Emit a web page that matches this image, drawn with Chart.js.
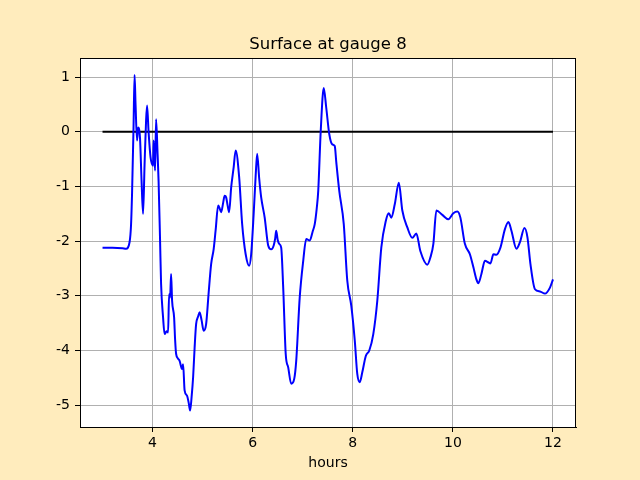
<!DOCTYPE html>
<html lang="en">

<head>
    <meta charset="UTF-8">
    <title>Surface at gauge 8</title>
    <script src="https://cdn.jsdelivr.net/npm/chart.js"></script>
    <style>
        html, body { margin: 0; padding: 0; background: #ffecbd; }
        #wrap { width: 640px; height: 480px; }
    </style>
</head>

<body>
    <div id="wrap"><canvas id="gaugeChart" width="640" height="480"></canvas></div>

    <script>
        // gauge 8 surface elevation
        const hours = [
            3.00, 3.20, 3.40, 3.47, 3.54, 3.57, 3.59, 3.62, 3.64, 3.66, 3.69, 3.71, 3.73, 3.75, 3.78, 3.81,
            3.84, 3.87, 3.89, 3.92, 3.96, 4.01, 4.02, 4.05, 4.07, 4.10, 4.12, 4.15, 4.17, 4.21, 4.24, 4.28,
            4.31, 4.33, 4.35, 4.37, 4.39, 4.43, 4.45, 4.47, 4.51, 4.54, 4.59, 4.61, 4.64, 4.69, 4.72, 4.75,
            4.78, 4.81, 4.84, 4.87, 4.91, 4.94, 4.98, 5.02, 5.07, 5.12, 5.17, 5.22, 5.26, 5.31, 5.34, 5.37,
            5.41, 5.44, 5.47, 5.50, 5.53, 5.57, 5.62, 5.66, 5.73, 5.79, 5.86, 5.93, 5.97, 6.02, 6.06, 6.09,
            6.13, 6.17, 6.24, 6.31, 6.37, 6.42, 6.45, 6.47, 6.50, 6.53, 6.57, 6.61, 6.66, 6.71, 6.77, 6.83,
            6.87, 6.94, 7.01, 7.07, 7.14, 7.20, 7.24, 7.28, 7.31, 7.36, 7.42, 7.47, 7.53, 7.59, 7.64, 7.67,
            7.73, 7.82, 7.89, 7.97, 8.04, 8.09, 8.14, 8.19, 8.26, 8.33, 8.41, 8.49, 8.57, 8.66, 8.72, 8.77,
            8.84, 8.92, 8.99, 9.09, 9.19, 9.27, 9.35, 9.49, 9.55, 9.61, 9.67, 9.79, 9.91, 10.01, 10.09, 10.15,
            10.24, 10.34, 10.41, 10.47, 10.51, 10.57, 10.64, 10.71, 10.75, 10.81, 10.87, 10.95, 11.04, 11.11,
            11.17, 11.27, 11.34, 11.43, 11.49, 11.55, 11.64, 11.74, 11.84, 11.94, 12.00
        ];
        const surface = [
            -2.12, -2.12, -2.13, -2.14, -2.02, -1.70, -1.13, 0.10, 1.04, 0.50, -0.16, 0.08, 0.05, -0.13, -0.90, -1.50,
            -0.60, 0.20, 0.48, 0.00, -0.47, -0.62, -0.16, -0.71, 0.23, -0.40, -0.90, -2.00, -2.78, -3.40, -3.70, -3.65,
            -3.67, -2.97, -3.03, -2.60, -3.09, -3.39, -3.80, -4.06, -4.15, -4.19, -4.34, -4.25, -4.73, -4.83, -4.95, -5.10,
            -4.85, -4.49, -3.95, -3.52, -3.38, -3.30, -3.45, -3.64, -3.52, -2.95, -2.42, -2.15, -1.80, -1.35, -1.40, -1.47,
            -1.30, -1.17, -1.20, -1.35, -1.47, -1.02, -0.65, -0.34, -0.83, -1.69, -2.24, -2.45, -2.24, -1.50, -0.80, -0.40,
            -0.85, -1.20, -1.57, -2.08, -2.15, -2.08, -1.95, -1.81, -1.98, -2.05, -2.12, -2.85, -4.06, -4.31, -4.61, -4.52,
            -4.19, -3.03, -2.36, -1.96, -1.99, -1.82, -1.69, -1.40, -1.08, 0.02, 0.80, 0.44, -0.04, -0.23, -0.26, -0.55,
            -1.08, -1.69, -2.72, -3.18, -3.82, -4.43, -4.58, -4.40, -4.10, -4.00, -3.70, -3.09, -2.12, -1.63, -1.49, -1.57,
            -1.32, -0.93, -1.44, -1.75, -1.94, -1.86, -2.18, -2.43, -2.30, -2.05, -1.44, -1.52, -1.60, -1.49, -1.46, -1.57,
            -2.05, -2.24, -2.48, -2.70, -2.77, -2.60, -2.36, -2.39, -2.41, -2.24, -2.25, -2.12, -1.78, -1.65,
            -1.81, -2.14, -2.02, -1.76, -1.93, -2.42, -2.88, -2.92, -2.96, -2.85, -2.70
        ];
        // reference level
        const zeroHours = [3, 12];
        const zeroLevel = [0, 0];

        const xTicks = [4, 6, 8, 10, 12];
        const yTicks = [-5, -4, -3, -2, -1, 0, 1];
        const chartTitle = 'Surface at gauge 8';

        const font = { family: 'DejaVu Sans', size: 14 };

        // white plot area, black frame and a title centred over the axes, like matplotlib
        const axesDecor = {
            id: 'axesDecor',
            beforeDraw(chart) {
                const { ctx, chartArea: a } = chart;
                ctx.save();
                ctx.fillStyle = '#fff';
                ctx.fillRect(a.left, a.top, a.right - a.left, a.bottom - a.top);
                ctx.fillStyle = '#000';
                ctx.font = '16.5px "DejaVu Sans"';
                ctx.textAlign = 'center';
                ctx.textBaseline = 'alphabetic';
                ctx.fillText(chartTitle, (a.left + a.right) / 2, a.top - 9);
                ctx.restore();
            },
            afterDatasetsDraw(chart) {
                const { ctx, chartArea: a } = chart;
                ctx.save();
                ctx.strokeStyle = '#000';
                ctx.lineWidth = 1;
                ctx.strokeRect(a.left + 0.5, a.top + 0.5, a.right - a.left - 1, a.bottom - a.top);
                ctx.restore();
            }
        };

        const toPoints = (xs, ys) => xs.map((x, i) => ({ x: x, y: ys[i] }));

        new Chart(document.getElementById('gaugeChart'), {
            type: 'line',
            data: {
                datasets: [
                    {
                        data: toPoints(hours, surface),
                        borderColor: '#0000ff',
                        borderWidth: 2,
                        pointRadius: 0,
                        cubicInterpolationMode: 'monotone',
                        fill: false
                    },
                    {
                        data: toPoints(zeroHours, zeroLevel),
                        borderColor: '#000000',
                        borderWidth: 2,
                        pointRadius: 0,
                        fill: false
                    }
                ]
            },
            options: {
                responsive: false,
                animation: false,
                layout: { padding: { top: 58, right: 64, bottom: 0, left: 0 } },
                plugins: {
                    legend: { display: false },
                    tooltip: { enabled: false },
                    title: { display: false }
                },
                scales: {
                    x: {
                        type: 'linear',
                        min: 2.55,
                        max: 12.46,
                        afterFit: (s) => { s.height = 53; },
                        afterBuildTicks: (s) => { s.ticks = xTicks.map(v => ({ value: v })); },
                        ticks: { color: '#000', font: font, padding: 3, maxRotation: 0 },
                        grid: { color: '#b0b0b0', lineWidth: 1, tickColor: '#000', tickLength: 5 },
                        border: { color: '#000', width: 1 },
                        title: {
                            display: true,
                            text: 'hours',
                            color: '#000',
                            font: font,
                            padding: { top: 0, bottom: 8 }
                        }
                    },
                    y: {
                        type: 'linear',
                        min: -5.4,
                        max: 1.35,
                        afterFit: (s) => { s.width = 80; },
                        afterBuildTicks: (s) => { s.ticks = yTicks.map(v => ({ value: v })); },
                        ticks: { color: '#000', font: font, padding: 5 },
                        grid: { color: '#b0b0b0', lineWidth: 1, tickColor: '#000', tickLength: 5 },
                        border: { color: '#000', width: 1 }
                    }
                }
            },
            plugins: [axesDecor]
        });
    </script>
</body>

</html>
